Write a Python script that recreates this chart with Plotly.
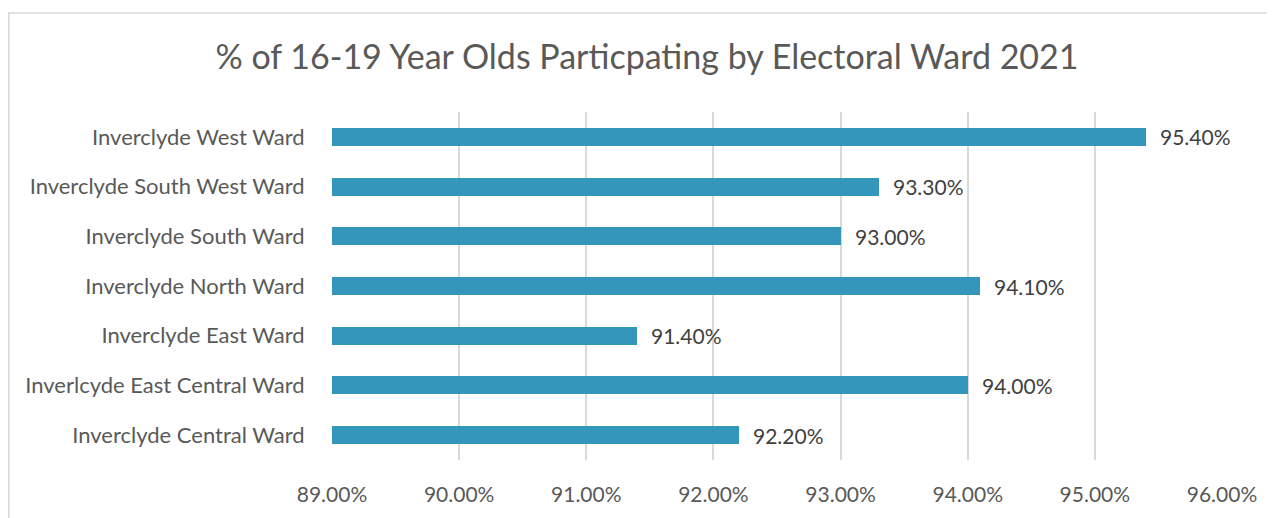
import plotly.graph_objects as go

categories = [
    "Inverclyde Central Ward",
    "Inverlcyde East Central Ward",
    "Inverclyde East Ward",
    "Inverclyde North Ward",
    "Inverclyde South Ward",
    "Inverclyde South West Ward",
    "Inverclyde West Ward",
]
values = [92.2, 94.0, 91.4, 94.1, 93.0, 93.3, 95.4]
tick_vals = [89, 90, 91, 92, 93, 94, 95, 96]
tick_text = ["89.00%", "90.00%", "91.00%", "92.00%", "93.00%", "94.00%", "95.00%", "96.00%"]
title_text = "% of 16-19 Year Olds Particpating by Electoral Ward 2021"

FONT = "Lato"
TXT = "#595959"
W, H = 1267, 510
L, R, T, B = 324, 53, 104, 58
PW, PH = W - L - R, H - T - B

fig = go.Figure()
fig.add_trace(go.Bar(
    y=categories, x=[v - 89 for v in values], orientation="h",
    base=89, width=0.36,
    marker=dict(color="#3596BC", line=dict(width=0)),
    hoverinfo="skip",
))

for c, v in zip(categories, values):
    fig.add_annotation(
        x=v, y=c, xref="x", yref="y",
        text=f"{v:.2f}%", showarrow=False,
        xanchor="left", xshift=12,
        font=dict(family=FONT, size=21, color="#404040"),
    )

fig.add_shape(type="rect", xref="paper", yref="paper",
              x0=(0.8 - L) / PW, x1=(W + 20 - L) / PW,
              y0=-(H + 20 - (H - B)) / PH, y1=(H - B - 5) / PH,
              line=dict(color="#D9D9D9", width=1.5), fillcolor="rgba(0,0,0,0)", layer="below")

fig.update_layout(
    width=W, height=H,
    margin=dict(l=L, r=R, t=T, b=B),
    paper_bgcolor="white", plot_bgcolor="white",
    showlegend=False,
    title=dict(text=title_text, x=(647 - 8) / W, xanchor="center", y=1 - 49 / H, yanchor="middle",
               font=dict(family=FONT, size=34, color=TXT)),
    xaxis=dict(range=[89, 96], tickvals=tick_vals, ticktext=tick_text,
               showgrid=True, gridcolor="#D9D9D9", gridwidth=1.5, zeroline=False,
               ticks="outside", ticklen=16, tickcolor="rgba(0,0,0,0)",
               tickfont=dict(family=FONT, size=21, color=TXT), showline=False),
    yaxis=dict(categoryorder="array", categoryarray=categories, range=[-0.5, 6.5],
               showgrid=False, zeroline=False, ticks="outside", ticklen=22, tickcolor="rgba(0,0,0,0)",
               tickfont=dict(family=FONT, size=22, color=TXT), showline=False),
    bargap=0,
)
fig.write_html("out.html")
